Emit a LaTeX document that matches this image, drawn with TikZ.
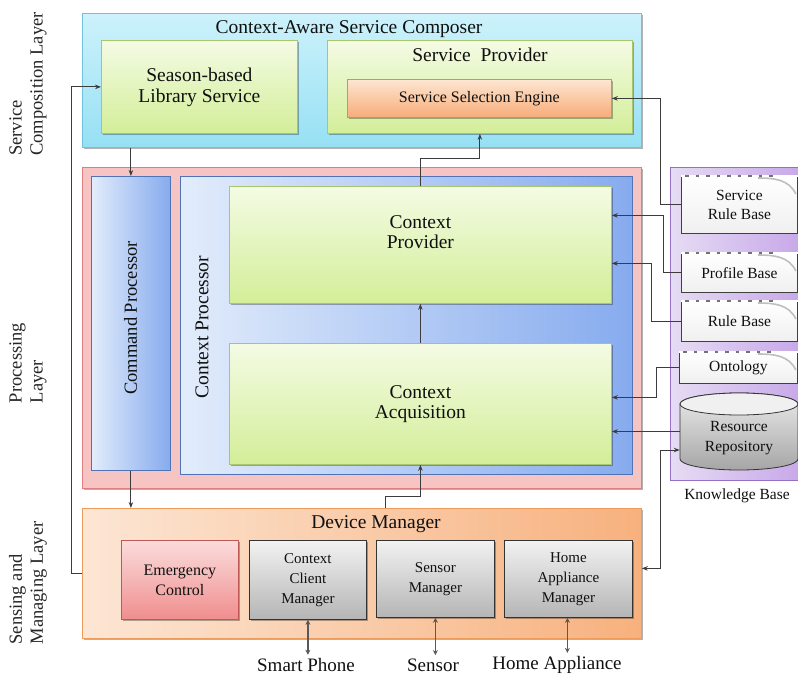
\documentclass[tikz,border=0pt]{standalone}
\usepackage{fontspec}
\setmainfont{Liberation Serif}
\usetikzlibrary{arrows.meta,shadows}
\definecolor{cyanT}{HTML}{CDF2FB}
\definecolor{cyanB}{HTML}{96E0F4}
\definecolor{cyanD}{HTML}{6FC3DC}
\definecolor{grT}{HTML}{F4FBE4}
\definecolor{grB}{HTML}{D3EE98}
\definecolor{grD}{HTML}{A9C66E}
\definecolor{orT}{HTML}{FDE6D2}
\definecolor{orB}{HTML}{F7AC78}
\definecolor{orD}{HTML}{E08B55}
\definecolor{pinkF}{HTML}{F7C4C4}
\definecolor{pinkD}{HTML}{DE7E7E}
\definecolor{blL}{HTML}{E2ECFB}
\definecolor{blR}{HTML}{86ABEE}
\definecolor{blD}{HTML}{4F73B5}
\definecolor{dmL}{HTML}{FCE6D4}
\definecolor{dmR}{HTML}{F7B17E}
\definecolor{dmD}{HTML}{EE9C5C}
\definecolor{emT}{HTML}{FBDCDC}
\definecolor{emB}{HTML}{F08E8E}
\definecolor{emD}{HTML}{C05858}
\definecolor{gyT}{HTML}{F2F2F2}
\definecolor{gyB}{HTML}{B5B5B5}
\definecolor{puL}{HTML}{E6DCF4}
\definecolor{puR}{HTML}{C6A6E8}
\definecolor{puD}{HTML}{9471C2}
\definecolor{txt}{HTML}{101010}
\definecolor{arrc}{HTML}{3C3C3C}
\tikzset{
  box/.style={draw, anchor=north west, inner sep=0pt, align=center, text=txt, line width=0.8pt},
  shad/.style={drop shadow={shadow xshift=2pt, shadow yshift=-2pt, opacity=0.3, fill=black}},
  greenbox/.style={box, shad, draw=grD, top color=grT, bottom color=grB},
  graybox/.style={box, shad, draw=black!80, top color=gyT, bottom color=gyB, font=\fontsize{15}{20}\selectfont},
  kbbox/.style={box, draw=black!75, top color=white, bottom color=black!6, font=\fontsize{15.5}{19}\selectfont},
  big/.style={font=\fontsize{19.5}{21}\selectfont, text=txt, align=center},
  layer/.style={rotate=90, align=left, font=\fontsize{18.5}{21}\selectfont, text=black!85},
  arr/.style={draw=arrc, line width=1pt, -{Stealth[length=6pt,width=4.5pt]}},
  darr/.style={draw=black!65, line width=1.6pt, {Stealth[length=5pt,width=5pt]}-{Stealth[length=5pt,width=5pt]}},
  doctop/.style={draw=black!55, line width=1.4pt, dash pattern=on 3.5pt off 7pt},
  curl/.style={draw=black!25, line width=1.6pt},
}
\begin{document}
\begin{tikzpicture}[x=1pt,y=-1pt]
\useasboundingbox (0,0) rectangle (798,677);

% layer labels
\node[layer] (lab1) at (28,84) {Service\\Composition Layer};
\node[layer] (lab2) at (28,363) {Processing\\Layer};
\node[layer] (lab3) at (28,583) {Sensing and\\Managing Layer};

% Service composition
\node[box, draw=cyanD, top color=cyanT, bottom color=cyanB, shad, minimum width=559, minimum height=134] (composer) at (82,13) {};
\node[big] (composerT) at (349,29) {Context-Aware Service Composer};
\node[greenbox, minimum width=196, minimum height=93, font=\fontsize{19.5}{21}\selectfont] (slib) at (101,40) {Season-based\\Library Service};
\node[greenbox, minimum width=305, minimum height=93] (sprov) at (327,40) {};
\node[big] (sprovT) at (480,55) {Service\ \ Provider};
\node[box, shad, draw=orD, top color=orT, bottom color=orB, minimum width=264, minimum height=38, font=\fontsize{16}{18}\selectfont] (sse) at (347,79) {Service Selection Engine};

% Processing layer
\node[box, draw=pinkD, fill=pinkF, shad, minimum width=559, minimum height=321] (proc) at (82,167) {};
\node[box, draw=blD, left color=blL, right color=blR, minimum width=79, minimum height=294] (cmdp) at (91,176) {};
\node[rotate=90, font=\fontsize{18.5}{20}\selectfont, text=txt] (cmdpT) at (130.5,318) {Command Processor};
\node[box, draw=blD, left color=blL, right color=blR, minimum width=452, minimum height=298] (ctxp) at (180,176) {};
\node[rotate=90, font=\fontsize{19.5}{20}\selectfont, text=txt] (ctxpT) at (202,327) {Context Processor};
\node[greenbox, minimum width=382, minimum height=117, font=\fontsize{19.5}{20}\selectfont] (cprov) at (229,186) {Context\\Provider\\[5pt]};
\node[greenbox, minimum width=382, minimum height=121, font=\fontsize{19.5}{20}\selectfont] (cacq) at (229,343) {Context\\Acquisition};

% Device manager
\node[box, draw=dmD, left color=dmL, right color=dmR, shad, minimum width=559, minimum height=130] (devmgr) at (82,508) {};
\node[big] (devmgrT) at (376,524) {Device Manager};
\node[box, shad, draw=emD, top color=emT, bottom color=emB, minimum width=117, minimum height=79, font=\fontsize{16}{20}\selectfont] (emc) at (121,540) {Emergency\\Control};
\node[graybox, minimum width=117, minimum height=79] (ccm) at (249,540) {Context\\Client\\Manager};
\node[graybox, minimum width=118, minimum height=77] (smgr) at (376,540) {Sensor\\Manager};
\node[graybox, minimum width=128, minimum height=77] (ham) at (504,540) {Home\\Appliance\\Manager};

\node[font=\fontsize{19}{20}\selectfont, text=txt] (phone) at (306,665) {Smart Phone};
\node[font=\fontsize{19}{20}\selectfont, text=txt] (sensor) at (433,665) {Sensor};
\node[font=\fontsize{19}{20}\selectfont, text=txt] (happ) at (557,665) {Home Appliance};

% Knowledge base
\node[box, draw=puD, left color=puL, right color=puR, minimum width=135, minimum height=313] (kb) at (670,167) {};
\node[font=\fontsize{15.5}{18}\selectfont, text=txt] (kbT) at (737,496) {Knowledge Base};
\node[kbbox, minimum width=116, minimum height=57] (srb) at (681,176) {Service\\Rule Base};
\node[kbbox, minimum width=116, minimum height=39] (pb) at (681,253) {Profile Base};
\node[kbbox, minimum width=116, minimum height=40] (rb) at (681,301) {Rule Base};
\node[kbbox, minimum width=118, minimum height=31] (onto) at (679,352) {Ontology};
\foreach \d in {srb,pb,rb,onto}{
  \draw[white, line width=1.2pt] (\d.north west) -- (\d.north east);
  \draw[doctop] ([xshift=4pt]\d.north west) -- ([xshift=-22pt]\d.north east);
  \draw[curl] ([xshift=-40pt,yshift=-2pt]\d.north east) to[out=0, in=115] ([xshift=-2pt,yshift=-18pt]\d.north east);
}
% cylinder
\path[draw=black!80, line width=0.8pt, top color=black!8, bottom color=black!35]
  (680,404) -- (680,459) arc[start angle=180, end angle=0, x radius=59, y radius=11]
  -- (798,404) arc[start angle=0, end angle=-180, x radius=59, y radius=11] -- cycle;
\path[draw=black!80, line width=0.8pt, fill=black!6] (739,404) ellipse[x radius=59, y radius=11];
\node[font=\fontsize{15.5}{20}\selectfont, text=txt, align=center, minimum width=118, minimum height=77, inner sep=0pt] (repo) at (739,438) {Resource\\Repository};

% connectors
\draw[arr] (devmgr.west) -- ++(-11,0) |- (slib.west);
\draw[arr] (cmdp.north |- composer.south) -- (cmdp.north);
\draw[arr] (cmdp.south) -- (cmdp.south |- devmgr.north);
\draw[arr] (cprov.north) -- ++(0,-28) -| (sprov.south);
\draw[arr] (cacq.north) -- (cprov.south);
\draw[arr] ([xshift=24pt]devmgr.north) -- ++(0,-12) -| (cacq.south);
\draw[arr] (srb.west) -- ++(-21,0) |- (sse.east);
\draw[arr] (pb.west) -- ++(-18,0) |- ([yshift=29.5pt]cprov.east);
\draw[arr] (rb.west) -- ++(-30,0) |- ([yshift=-18.5pt]cprov.east);
\draw[arr] (onto.west) -- ++(-23,0) |- ([yshift=6.5pt]cacq.east);
\draw[arr] ([yshift=6.5pt]repo.west) -- ([yshift=6.5pt]repo.west -| cacq.east);
\draw[arr, {Stealth[length=6pt,width=4.5pt]}-{Stealth[length=6pt,width=4.5pt]}] ([yshift=5pt]devmgr.east) -- ++(19,0) |- ([yshift=-12pt]repo.west);
\draw[darr] (ccm.south) -- (ccm.south |- phone.north);
\draw[darr] (smgr.south) -- (smgr.south |- sensor.north);
\draw[darr] ([xshift=-1pt]ham.south) -- ([xshift=-1pt]ham.south |- happ.north);
\end{tikzpicture}
\end{document}
